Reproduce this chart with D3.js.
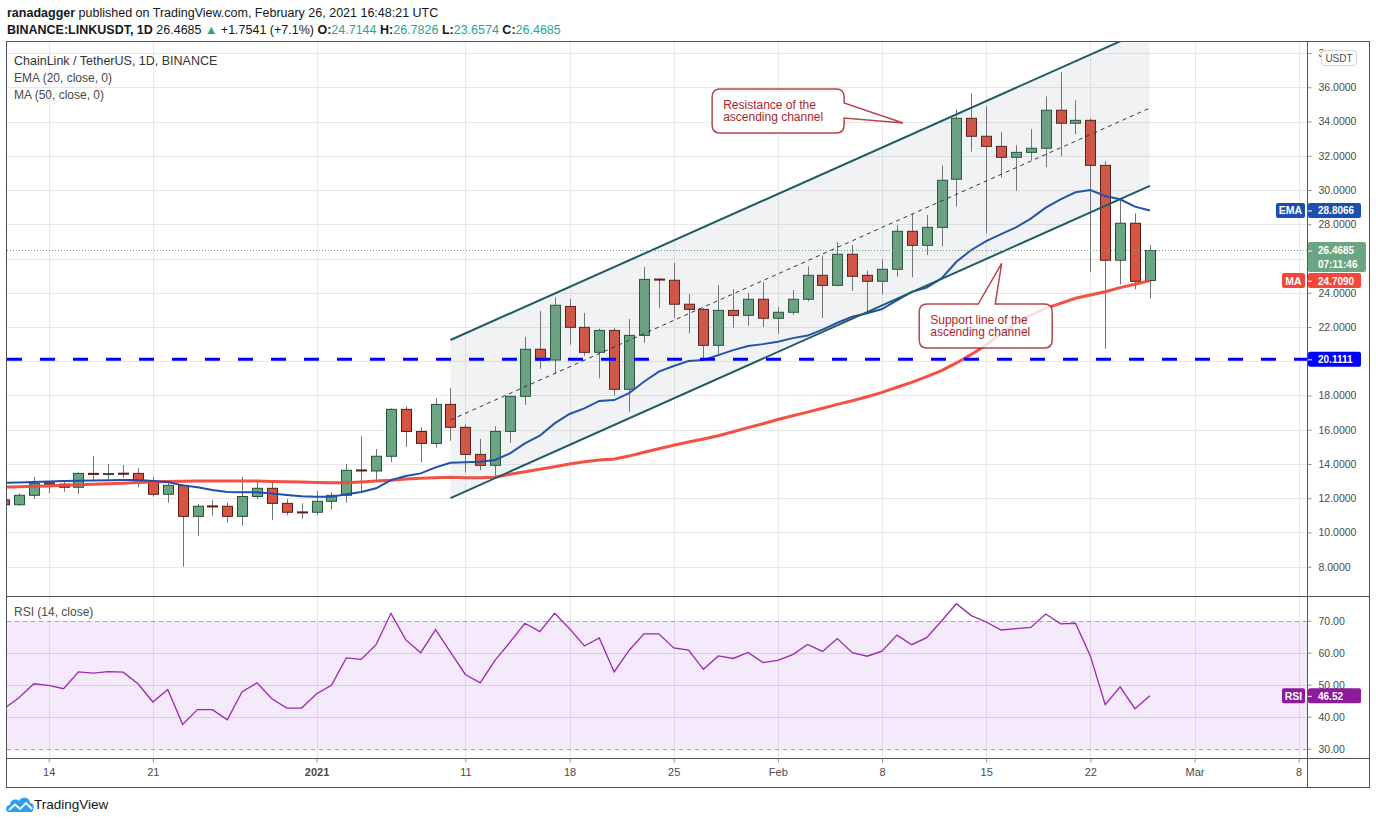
<!DOCTYPE html>
<html>
<head>
<meta charset="utf-8">
<title>LINKUSDT 1D</title>
<script src="https://cdn.jsdelivr.net/npm/d3@7"></script>
<style>
  body { margin: 0; background: #fff; }
  svg { display: block; font-family: 'Liberation Sans', Arial, sans-serif; }
</style>
</head>
<body>
<svg id="chart" width="1376" height="823"></svg>
<script>
/* global d3 */

// daily candles, Dec 11 2020 -> Feb 26 2021
const firstDay = '2020-12-11';
const lastDay = '2021-02-26';

const open = [
  11.9, 11.62, 12.17, 12.9, 12.82, 12.64, 13.45, 13.4, 13.46, 13.45, 13.0, 12.23, 12.75, 10.94, 11.55, 11.53, 10.94, 12.1, 12.58, 11.7, 11.2,
  11.18, 11.82, 12.17, 13.65, 13.59, 14.45, 17.19, 15.9, 15.2, 17.48, 16.14, 14.56, 13.92, 15.9, 17.95, 20.7, 20.07, 23.2, 21.98, 20.52, 21.8,
  18.36, 21.51, 24.8, 24.73, 23.33, 23.03, 20.93, 22.97, 22.68, 23.62,
  22.51, 22.86, 23.62, 25.02, 24.43, 26.25, 25.02, 24.67, 25.37, 27.59, 26.77, 27.82, 30.63, 34.19, 33.14, 32.55, 31.91, 32.2, 32.44, 34.66,
  33.9, 34.07, 31.44, 25.9, 28.06, 24.7144,
];
const high = [
  12.0, 12.28, 13.24, 12.95, 13.0, 13.5, 14.46, 14.0, 13.94, 13.76, 13.24, 13.0, 12.8, 11.66, 11.9, 11.74, 13.24, 12.93, 13.0, 11.95, 11.7,
  12.42, 12.35, 14.0, 15.63, 14.87, 17.25, 17.37, 16.14, 17.83, 18.42, 16.3, 15.46, 16.2, 17.98, 21.41, 22.93, 23.73, 23.63, 22.82, 21.9, 21.95,
  22.47, 25.5, 24.85, 25.74, 23.93, 23.1, 24.45, 24.2, 24.0, 24.63,
  23.17, 24.16, 25.54, 26.16, 26.96, 26.79, 25.29, 25.95, 27.96, 28.6, 28.54, 31.44, 34.71, 35.65, 34.89, 33.39, 32.61, 33.55, 35.47, 36.88,
  35.24, 34.19, 31.68, 29.52, 28.64, 26.7826,
];
const low = [
  11.5, 11.55, 11.97, 12.3, 12.38, 12.25, 13.0, 13.1, 13.2, 12.64, 12.09, 11.74, 8.0, 9.81, 10.98, 10.57, 10.39, 11.94, 10.74, 11.0, 10.8,
  11.0, 11.33, 11.74, 12.35, 13.05, 14.1, 15.0, 14.1, 14.95, 15.36, 13.5, 13.63, 13.3, 15.24, 17.46, 19.56, 19.27, 20.97, 20.32, 19.0, 17.99,
  17.05, 21.08, 23.1, 22.5, 21.63, 20.17, 20.42, 21.96, 22.07, 22.0,
  21.6, 22.7, 23.5, 22.54, 24.38, 24.12, 22.8, 23.9, 24.94, 24.9, 26.2, 26.7, 29.03, 32.24, 27.47, 30.72, 29.96, 31.74, 31.33, 31.97,
  33.25, 25.2, 20.73, 24.49, 24.2, 23.6574,
];
const close = [
  11.62, 12.17, 12.85, 12.82, 12.64, 13.45, 13.4, 13.44, 13.42, 13.0, 12.23, 12.75, 10.94, 11.53, 11.5, 10.94, 12.1, 12.58, 11.7, 11.18, 11.16,
  11.82, 12.17, 13.63, 13.6, 14.45, 17.19, 15.9, 15.2, 17.48, 16.14, 14.56, 13.92, 15.9, 17.95, 20.7, 20.07, 23.27, 21.98, 20.52, 21.8, 18.36,
  21.51, 24.78, 24.74, 23.33, 23.03, 20.93, 22.97, 22.68, 23.62, 22.51,
  22.86, 23.62, 25.02, 24.43, 26.25, 24.96, 24.67, 25.37, 27.59, 26.77, 27.82, 30.57, 34.19, 33.14, 32.55, 31.91, 32.2, 32.44, 34.66, 33.9,
  34.07, 31.44, 25.9, 28.06, 24.67, 26.4685,
];

// EMA (20, close) and MA (50, close) as drawn on the chart
const ema20 = [
  12.9, 12.92, 12.95, 12.98, 13.0, 13.02, 13.04, 13.05, 13.06, 13.06, 13.0, 12.95, 12.75, 12.64, 12.48, 12.36, 12.35, 12.35, 12.28, 12.19, 12.11,
  12.09, 12.09, 12.23, 12.36, 12.58, 13.06, 13.3, 13.45, 13.8, 14.07, 14.1, 14.13, 14.23, 14.62, 15.2, 15.65, 16.37, 16.92, 17.25, 17.68, 17.73,
  18.13, 18.8, 19.39, 19.72, 20.01, 20.07, 20.36, 20.65, 20.89, 21.0,
  21.14, 21.35, 21.5, 21.85, 22.25, 22.6, 22.8, 23.05, 23.55, 24.05, 24.3, 24.84, 25.81, 26.5, 27.02, 27.43, 27.82, 28.33, 28.97, 29.46,
  29.87, 30.0, 29.65, 29.46, 29.03, 28.8066,
];
const ma50 = [
  12.65, 12.67, 12.7, 12.72, 12.75, 12.78, 12.82, 12.85, 12.88, 12.92, 12.95, 12.97, 12.99, 13.0, 13.0, 13.0, 13.0, 13.0, 12.98, 12.96, 12.94,
  12.92, 12.91, 12.9, 12.95, 13.0, 13.05, 13.12, 13.17, 13.2, 13.22, 13.2, 13.2, 13.22, 13.4, 13.55, 13.69, 13.84, 14.0, 14.13, 14.23, 14.29,
  14.46, 14.68, 14.89, 15.09, 15.28, 15.46, 15.65, 15.88, 16.12, 16.35,
  16.6, 16.82, 17.03, 17.25, 17.48, 17.69, 17.93, 18.18, 18.48, 18.77, 19.1, 19.45, 19.9, 20.4, 20.95, 21.63, 22.22, 22.7, 23.09, 23.38,
  23.68, 23.87, 24.06, 24.3, 24.5, 24.709,
];

// RSI (14, close)
const rsi14 = [
  42.5, 45.9, 50.3, 49.8, 48.75, 54.0, 53.6, 54.1, 53.9, 50.3, 44.6, 48.5, 37.6, 42.2, 42.2, 39.0, 47.8, 50.6, 45.6, 42.7, 42.7,
  47.2, 49.8, 58.4, 57.9, 62.5, 72.3, 64.0, 60.0, 67.2, 60.2, 53.2, 50.6, 57.7, 63.3, 69.2, 66.6, 72.3, 67.5, 62.1, 64.6, 54.0,
  60.7, 65.9, 65.9, 61.5, 60.8, 54.8, 59.0, 58.2, 60.1, 56.9,
  57.6, 59.4, 62.6, 60.4, 64.4, 60.0, 58.9, 60.5, 65.5, 62.5, 64.7, 69.9, 75.3, 71.6, 69.6, 67.1, 67.5, 67.9, 72.1, 69.0,
  69.2, 59.0, 43.75, 49.3, 42.5, 46.52,
];

// axes
const dayTicks = ['2020-12-14', '2020-12-21', '2021-01-01', '2021-01-11', '2021-01-18', '2021-01-25',
  '2021-02-01', '2021-02-08', '2021-02-15', '2021-02-22', '2021-03-01', '2021-03-08'];
const dayTickLabels = ['14', '21', '2021', '11', '18', '25', 'Feb', '8', '15', '22', 'Mar', '8'];
const priceTicks = [8, 10, 12, 14, 16, 18, 20, 22, 24, 26, 28, 30, 32, 34, 36, 38];
const rsiTicks = [30, 40, 50, 60, 70];

// drawings
const channelDates = ['2021-01-10', '2021-02-26'];
const channelUpper = [21.24, 39.46];
const channelMid = [16.57, 34.79];
const channelLower = [12.01, 30.24];
const supportLevel = 20.1111;

const callouts = [
  { lines: ['Resistance of the', 'ascending channel'], at: '2021-01-27T14:00Z', top: 35.9, w: 132, h: 44,
    tip: ['2021-02-09T10:00Z', 33.91], tail: 'right', fill: 'rgba(255,255,255,0.92)' },
  { lines: ['Support line of the', 'ascending channel'], at: '2021-02-10T12:00Z', top: 23.34, w: 133, h: 44,
    tip: ['2021-02-16T01:00Z', 25.72], tail: 'top', fill: 'rgba(255,255,255,0.82)' },
];

const C = {
  up: '#6ba583', upLine: '#225437',
  down: '#d75442', downLine: '#5b1a13',
  wick: '#737375',
  ema: '#1c4fae', ma: '#f4473a',
  level: '#0000ff', channel: '#1f5b63',
  rsi: '#9c27b0', rsiTag: '#8d1b9b',
  grid: '#e8e8ea', frame: '#50535e', text: '#4a4a4a',
  note: '#a8262b',
};

const L = 7, R = 1307, TOP = 42, SPLIT = 596, RSI_BOTTOM = 758, BOTTOM = 787, OUTER = 1369;

const svg = d3.select('#chart');
const days = d3.utcDay.range(new Date(firstDay), d3.utcDay.offset(new Date(lastDay), 1));
const candles = days.map((d, i) => ({ d, o: open[i], h: high[i], l: low[i], c: close[i], ema: ema20[i], ma: ma50[i], rsi: rsi14[i] }));
const last = candles[candles.length - 1];

const x = d3.scaleUtc()
  .domain([new Date('2020-12-11T04:45Z'), new Date('2021-03-08T13:26Z')])
  .range([L, R]);
const y = d3.scaleLinear().domain([8, 36]).range([566.7, 87.3]);
const ry = d3.scaleLinear().domain([30, 70]).range([748.7, 620.7]);

const px = (v) => Math.round(v) + 0.5;

svg.append('rect').attr('width', 1376).attr('height', 823).attr('fill', '#fff');

const defs = svg.append('defs');
defs.append('clipPath').attr('id', 'clipMain')
  .append('rect').attr('x', L).attr('y', TOP).attr('width', R - L).attr('height', SPLIT - TOP);
defs.append('clipPath').attr('id', 'clipRsi')
  .append('rect').attr('x', L).attr('y', SPLIT).attr('width', R - L).attr('height', RSI_BOTTOM - SPLIT);

// header
const head = svg.append('g').attr('font-size', 12.5).attr('fill', '#131722');
head.append('text').attr('x', 7).attr('y', 17)
  .call((t) => {
    t.append('tspan').attr('font-weight', 'bold').text('ranadagger');
    t.append('tspan').text(' published on TradingView.com, February 26, 2021 16:48:21 UTC');
  });
const teal = '#26a69a';
head.append('text').attr('x', 7).attr('y', 34)
  .call((t) => {
    t.append('tspan').attr('font-weight', 'bold').text('BINANCE:LINKUSDT, 1D ');
    t.append('tspan').text(' 26.4685 ');
    t.append('tspan').attr('fill', teal).text('▲');
    t.append('tspan').text(' +1.7541 (+7.1%) ');
    [['O:', '24.7144'], ['H:', '26.7826'], ['L:', '23.6574'], ['C:', '26.4685']].forEach(([k, v]) => {
      t.append('tspan').attr('font-weight', 'bold').text(k);
      t.append('tspan').attr('fill', teal).text(v + ' ');
    });
  });

// grid
const grid = svg.append('g').attr('stroke', C.grid).attr('shape-rendering', 'crispEdges');
grid.selectAll('.vg').data(dayTicks).join('line')
  .attr('x1', (d) => px(x(new Date(d)))).attr('x2', (d) => px(x(new Date(d))))
  .attr('y1', TOP).attr('y2', RSI_BOTTOM);
grid.selectAll('.hg').data(priceTicks.filter((p) => y(p) > TOP)).join('line')
  .attr('x1', L).attr('x2', R)
  .attr('y1', (d) => px(y(d))).attr('y2', (d) => px(y(d)));

// ---------- main pane ----------
const main = svg.append('g').attr('clip-path', 'url(#clipMain)');

// candles
const cg = main.append('g').selectAll('g').data(candles).join('g');
cg.append('line')
  .attr('x1', (d) => px(x(d.d))).attr('x2', (d) => px(x(d.d)))
  .attr('y1', (d) => y(d.h)).attr('y2', (d) => y(d.l))
  .attr('stroke', C.wick);
cg.append('rect')
  .attr('x', (d) => px(x(d.d)) - 5).attr('width', 10)
  .attr('y', (d) => y(Math.max(d.o, d.c)))
  .attr('height', (d) => Math.max(1, Math.abs(y(d.o) - y(d.c))))
  .attr('fill', (d) => (d.c >= d.o ? C.up : C.down))
  .attr('stroke', (d) => (d.c >= d.o ? C.upLine : C.downLine));

// moving averages
main.append('path').datum(candles)
  .attr('fill', 'none').attr('stroke', C.ma).attr('stroke-width', 3).attr('stroke-opacity', 0.95)
  .attr('d', d3.line().x((d) => x(d.d)).y((d) => y(d.ma)));
main.append('path').datum(candles)
  .attr('fill', 'none').attr('stroke', C.ema).attr('stroke-width', 2)
  .attr('d', d3.line().x((d) => x(d.d)).y((d) => y(d.ema)));

// ascending channel
const cx0 = x(new Date(channelDates[0]));
const cx1 = x(new Date(channelDates[1]));
main.append('path')
  .attr('d', `M${cx0},${y(channelUpper[0])}L${cx1},${y(channelUpper[1])}L${cx1},${y(channelLower[1])}L${cx0},${y(channelLower[0])}Z`)
  .attr('fill', 'rgba(120,123,134,0.1)');
[channelUpper, channelLower].forEach((c) => {
  main.append('line').attr('x1', cx0).attr('y1', y(c[0])).attr('x2', cx1).attr('y2', y(c[1]))
    .attr('stroke', C.channel).attr('stroke-width', 2);
});
main.append('line').attr('x1', cx0).attr('y1', y(channelMid[0])).attr('x2', cx1).attr('y2', y(channelMid[1]))
  .attr('stroke', '#333').attr('stroke-width', 1).attr('stroke-dasharray', '4,4');

// horizontal level
main.append('line').attr('x1', L).attr('x2', R)
  .attr('y1', y(supportLevel)).attr('y2', y(supportLevel))
  .attr('stroke', C.level).attr('stroke-width', 3).attr('stroke-dasharray', '15,18');

// last price line
main.append('line').attr('x1', L).attr('x2', R)
  .attr('y1', px(y(last.c))).attr('y2', px(y(last.c)))
  .attr('stroke', C.up).attr('stroke-dasharray', '1,2');

// callouts
callouts.forEach((n) => {
  const bx = x(new Date(n.at)), by = y(n.top), w = n.w, h = n.h, r = 8;
  const tx = x(new Date(n.tip[0])), ty = y(n.tip[1]);
  let d;
  if (n.tail === 'right') {
    d = `M${bx + r},${by}H${bx + w - r}Q${bx + w},${by} ${bx + w},${by + r}V${by + 14}L${tx},${ty}L${bx + w},${by + 29}`
      + `V${by + h - r}Q${bx + w},${by + h} ${bx + w - r},${by + h}H${bx + r}Q${bx},${by + h} ${bx},${by + h - r}`
      + `V${by + r}Q${bx},${by} ${bx + r},${by}Z`;
  } else {
    d = `M${bx + r},${by}H${bx + 59}L${tx},${ty}L${bx + 76},${by}H${bx + w - r}Q${bx + w},${by} ${bx + w},${by + r}`
      + `V${by + h - r}Q${bx + w},${by + h} ${bx + w - r},${by + h}H${bx + r}Q${bx},${by + h} ${bx},${by + h - r}`
      + `V${by + r}Q${bx},${by} ${bx + r},${by}Z`;
  }
  const g = main.append('g');
  g.append('path').attr('d', d).attr('fill', n.fill)
    .attr('stroke', C.note).attr('stroke-width', 1.5).attr('stroke-opacity', 0.85);
  g.append('text').attr('font-size', 12).attr('fill', C.note)
    .selectAll('tspan').data(n.lines).join('tspan')
    .attr('x', bx + 11).attr('y', (_, i) => by + 19.5 + i * 12.7).text((t) => t);
});

// legend
const leg = svg.append('g').attr('font-size', 12).attr('fill', C.text);
leg.append('text').attr('x', 14).attr('y', 64.5).attr('font-size', 12.5).attr('fill', '#333')
  .text('ChainLink / TetherUS, 1D, BINANCE');
leg.append('text').attr('x', 14).attr('y', 81.5).text('EMA (20, close, 0)');
leg.append('text').attr('x', 14).attr('y', 98.5).text('MA (50, close, 0)');

// ---------- RSI pane ----------
const rsiG = svg.append('g').attr('clip-path', 'url(#clipRsi)');
rsiG.append('rect').attr('x', L).attr('width', R - L)
  .attr('y', ry(70)).attr('height', ry(30) - ry(70))
  .attr('fill', 'rgba(156,39,230,0.1)');
rsiG.selectAll('.rg').data([40, 50, 60]).join('line')
  .attr('x1', L).attr('x2', R).attr('y1', (d) => px(ry(d))).attr('y2', (d) => px(ry(d)))
  .attr('stroke', '#dccde6').attr('shape-rendering', 'crispEdges');
rsiG.selectAll('.rb').data([30, 70]).join('line')
  .attr('x1', L).attr('x2', R).attr('y1', (d) => px(ry(d))).attr('y2', (d) => px(ry(d)))
  .attr('stroke', '#a99bb0').attr('stroke-dasharray', '4,4').attr('shape-rendering', 'crispEdges');
rsiG.append('path').datum(candles)
  .attr('fill', 'none').attr('stroke', C.rsi).attr('stroke-width', 1.3)
  .attr('d', d3.line().x((d) => x(d.d)).y((d) => ry(d.rsi)));
svg.append('text').attr('x', 14).attr('y', 616).attr('font-size', 12).attr('fill', C.text).text('RSI (14, close)');

// ---------- frame ----------
const frame = svg.append('g').attr('stroke', C.frame).attr('fill', 'none').attr('shape-rendering', 'crispEdges');
frame.append('rect').attr('x', 6.5).attr('y', TOP - 0.5).attr('width', OUTER - 6).attr('height', BOTTOM - TOP + 1);
frame.append('line').attr('x1', R + 0.5).attr('x2', R + 0.5).attr('y1', TOP).attr('y2', BOTTOM);
[SPLIT, RSI_BOTTOM].forEach((v) => {
  frame.append('line').attr('x1', 6).attr('x2', OUTER).attr('y1', v + 0.5).attr('y2', v + 0.5);
});

// ---------- axes ----------
function styleAxis(g) {
  g.select('.domain').remove();
  g.selectAll('line').attr('stroke', '#8a8d96');
  g.selectAll('text').attr('fill', C.text).attr('font-size', 10.5).attr('font-family', "'Liberation Sans', Arial, sans-serif");
}

const priceAxis = svg.append('g').attr('transform', `translate(${R + 0.5},0)`)
  .call(d3.axisRight(y).tickValues(priceTicks).tickSize(4).tickPadding(7).tickFormat(d3.format('.4f')))
  .call(styleAxis);
// labels sitting under the value tags are hidden; the top one is cut by the unit badge
const tagPrices = [last.c, supportLevel];
priceAxis.selectAll('.tick')
  .filter((d) => tagPrices.some((p) => Math.abs(y(d) - y(p)) < 10))
  .select('text').remove();
priceAxis.selectAll('.tick').filter((d) => d === 38).select('text').text('3');

svg.append('g').attr('transform', `translate(${R + 0.5},0)`)
  .call(d3.axisRight(ry).tickValues(rsiTicks).tickSize(4).tickPadding(7).tickFormat(d3.format('.2f')))
  .call(styleAxis);
svg.append('g').attr('transform', `translate(0,${RSI_BOTTOM + 0.5})`)
  .call(d3.axisBottom(x).tickValues(dayTicks.map((d) => new Date(d))).tickSize(4).tickPadding(6)
    .tickFormat((d, i) => dayTickLabels[i]))
  .call(styleAxis)
  .call((g) => g.selectAll('text').attr('font-size', 11).attr('font-weight', (d, i) => (dayTickLabels[i] === '2021' ? 'bold' : null)));

// USDT badge over the top tick
const usdt = svg.append('g');
usdt.append('rect').attr('x', 1321.5).attr('y', 50.5).attr('width', 35).attr('height', 15).attr('rx', 3)
  .attr('fill', '#fff').attr('stroke', '#d1d4dc');
usdt.append('text').attr('x', 1339).attr('y', 61.5).attr('text-anchor', 'middle')
  .attr('font-size', 10).attr('fill', C.text).text('USDT');

// price tags on the scale
function tag(yv, lines, color, name, nameX) {
  const two = lines.length > 1;
  const g = svg.append('g');
  g.append('rect').attr('x', R + 1).attr('y', yv - (two ? 8.5 : 7.5)).attr('width', two ? 58 : 53).attr('height', two ? 30 : 15)
    .attr('rx', 2).attr('fill', color);
  g.selectAll('text.v').data(lines).join('text')
    .attr('x', R + 11).attr('y', (_, i) => yv + 4 + i * 14)
    .attr('font-size', 10).attr('font-weight', 'bold').attr('fill', '#fff').text((t) => t);
  g.append('line').attr('x1', R + 1).attr('x2', R + 5).attr('y1', yv + 0.5).attr('y2', yv + 0.5).attr('stroke', '#fff');
  if (name) {
    g.append('rect').attr('x', nameX).attr('y', yv - 7.5).attr('width', R - 2 - nameX).attr('height', 15)
      .attr('rx', 2).attr('fill', color);
    g.append('text').attr('x', (nameX + R - 2) / 2).attr('y', yv + 4).attr('text-anchor', 'middle')
      .attr('font-size', 10.5).attr('font-weight', 'bold').attr('fill', '#fff').text(name);
  }
}
tag(y(last.ema), [d3.format('.4f')(last.ema)], C.ema, 'EMA', 1276);
tag(y(last.c), [d3.format('.4f')(last.c), '07:11:46'], C.up);
tag(y(last.ma), [d3.format('.4f')(last.ma)], C.ma, 'MA', 1282);
tag(y(supportLevel), [d3.format('.4f')(supportLevel)], C.level);
tag(ry(last.rsi), [d3.format('.2f')(last.rsi)], C.rsiTag, 'RSI', 1282);

// TradingView mark
const logo = svg.append('g').attr('transform', 'translate(6,796)');
logo.append('path')
  .attr('d', 'M3,16 C-1,16 -1,9 4,9 C4,4 10,2 13,5 C15,0 24,1 24,7 C28,7 29,12 26,16 Z')
  .attr('fill', '#2e9ef4');
logo.append('path').attr('d', 'M3,14 L9,8.5 L14,13 L20,7 L26,13')
  .attr('fill', 'none').attr('stroke', '#fff').attr('stroke-width', 1.8);
svg.append('text').attr('x', 34).attr('y', 809).attr('font-size', 13.5).attr('fill', '#131722').text('TradingView');
</script>
</body>
</html>
